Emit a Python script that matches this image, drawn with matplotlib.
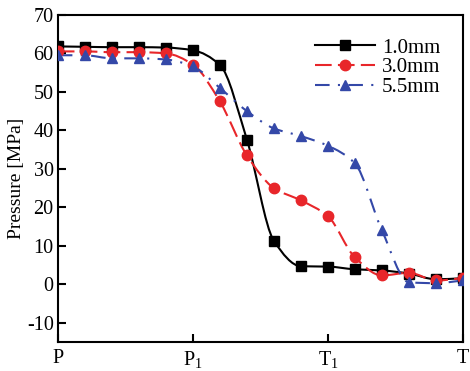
import numpy as np
import matplotlib
matplotlib.use("Agg")
import matplotlib.pyplot as plt
from matplotlib.path import Path
from matplotlib.patches import PathPatch

plt.rcParams['font.family'] = ['Liberation Serif', 'DejaVu Serif']
plt.rcParams['mathtext.fontset'] = 'custom'
plt.rcParams['mathtext.rm'] = 'Liberation Serif'
plt.rcParams['mathtext.it'] = 'Liberation Serif:italic'
plt.rcParams['axes.unicode_minus'] = False

x = np.arange(16) * 0.2
s10 = [61.8, 61.7, 61.6, 61.6, 61.5, 60.8, 57.0, 37.6, 11.3, 4.7, 4.6, 3.9, 3.6, 2.8, 1.3, 1.6]
s30 = [60.5, 60.5, 60.3, 60.3, 60.0, 57.1, 47.5, 33.5, 25.0, 21.8, 17.7, 7.0, 2.3, 3.0, 1.0, 1.6]
s55 = [59.5, 59.5, 58.7, 58.7, 58.4, 56.6, 51.0, 45.0, 40.5, 38.5, 36.0, 31.4, 14.0, 0.5, 0.3, 1.0]
labels = ['1.0mm', '3.0mm', '5.5mm']
xtick_pos = [0, 1, 2, 3]
xtick_labels = ['P', r'P$_\mathrm{1}$', r'T$_\mathrm{1}$', 'T']

colors = ['#000000', '#e8262a', '#3448a8']
styles = ['-', (0, (8, 3)), (0, (7, 4, 1, 4))]
markers = ['s', 'o', '^']
msizes = [6.5, 7.5, 7.5]

fig = plt.figure(figsize=(4.70, 3.71), dpi=100)
ax = fig.add_axes([0.123, 0.078, 0.862, 0.882])


def smooth_path(xs, ys):
    xs = np.asarray(xs, float)
    ys = np.asarray(ys, float)
    n = len(xs)
    d = np.diff(ys) / np.diff(xs)
    m = np.zeros(n)
    m[0] = d[0]
    m[-1] = d[-1]
    for i in range(1, n - 1):
        if d[i - 1] * d[i] <= 0:
            m[i] = 0.0
        else:
            m[i] = 2.0 / (1.0 / d[i - 1] + 1.0 / d[i])
    verts = [(xs[0], ys[0])]
    codes = [Path.MOVETO]
    for i in range(n - 1):
        h = xs[i + 1] - xs[i]
        verts += [(xs[i] + h / 3, ys[i] + m[i] * h / 3),
                  (xs[i + 1] - h / 3, ys[i + 1] - m[i + 1] * h / 3),
                  (xs[i + 1], ys[i + 1])]
        codes += [Path.CURVE4] * 3
    return Path(verts, codes)


series = [s10, s30, s55]
for ys, c, ls, mk, ms, lab in zip(series, colors, styles, markers, msizes, labels):
    patch = PathPatch(smooth_path(x, ys), facecolor='none', edgecolor=c,
                      linestyle=ls, linewidth=1.5, zorder=2)
    ax.add_patch(patch)
    ax.plot(x, ys, linestyle='none', marker=mk, markersize=ms, color=c, zorder=3)
    ax.plot([], [], linestyle=ls, marker=mk, markersize=ms, color=c, lw=1.5, label=lab)

ax.set_xlim(0, 3)
ax.set_ylim(-15, 70)
ax.set_yticks([-10, 0, 10, 20, 30, 40, 50, 60, 70])
ax.set_xticks(xtick_pos)
ax.set_xticklabels(xtick_labels)
ax.tick_params(direction='in', length=6, width=1.5, labelsize=14.5, top=False, right=False)
ax.tick_params(axis='x', pad=5)
ax.tick_params(axis='y', pad=3)
for sp in ax.spines.values():
    sp.set_linewidth(1.5)
ax.set_ylabel('Pressure [MPa]', fontsize=14, labelpad=1)

leg = ax.legend(loc='upper right', frameon=False, fontsize=15, handlelength=2.9,
                handletextpad=0.3, labelspacing=0.0, borderaxespad=0.4,
                bbox_to_anchor=(0.985, 0.98))

fig.savefig('out.png', dpi=100)
